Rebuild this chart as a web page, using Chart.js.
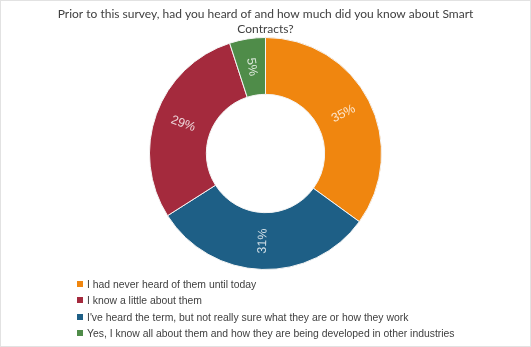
<!DOCTYPE html>
<html>
<head>
<meta charset="utf-8">
<script src="https://cdn.jsdelivr.net/npm/chart.js@4"></script>
<style>
  html, body { margin: 0; padding: 0; background: #fff; }
  #wrap { position: relative; width: 531px; height: 347px; box-sizing: border-box; border: 1px solid #e2e2e2; }
  #chart { position: absolute; left: 0; top: 0; }
  #legend { position: absolute; left: 76px; top: 276px; font: 10.4px "Liberation Sans", Arial, sans-serif; color: #404040; }
  #legend div { height: 16.3px; line-height: 16.3px; white-space: nowrap; }
  #legend span { display: inline-block; width: 6px; height: 6px; margin-right: 4px; vertical-align: 1px; }
</style>
</head>
<body>
<div id="wrap">
  <canvas id="chart" width="529" height="345"></canvas>
  <div id="legend"></div>
</div>
<script>
const titleLines = ['Prior to this survey, had you heard of and how much did you know about Smart', 'Contracts?'];
const categories = [
    'I had never heard of them until today',
    "I've heard the term, but not really sure what they are or how they work",
    'I know a little about them',
    'Yes, I know all about them and how they are being developed in other industries'
];
const values = [35, 31, 29, 5];
const colors = ['#f0860f', '#1e5f86', '#a42a3d', '#4f8c49'];
// legend lists the answers in a different order than the slices
const legendOrder = [0, 2, 1, 3];

const rotatedLabels = {
    id: 'rotatedLabels',
    afterDatasetsDraw(chart) {
        const ctx = chart.ctx;
        const meta = chart.getDatasetMeta(0);
        ctx.save();
        ctx.font = '12.5px "Liberation Sans", Arial, sans-serif';
        ctx.fillStyle = 'rgba(255,255,255,0.8)';
        ctx.textAlign = 'center';
        ctx.textBaseline = 'middle';
        meta.data.forEach((arc, i) => {
            const p = arc.tooltipPosition();
            const mid = (arc.startAngle + arc.endAngle) / 2;
            let deg = mid * 180 / Math.PI;
            // keep text upright-ish like the spreadsheet does
            while (deg > 90) deg -= 180;
            while (deg < -90) deg += 180;
            ctx.translate(p.x, p.y);
            ctx.rotate(deg * Math.PI / 180);
            ctx.fillText(values[i] + '%', 0, 0);
            ctx.setTransform(1, 0, 0, 1, 0, 0);
        });
        ctx.restore();
    }
};

const chart = new Chart(document.getElementById('chart'), {
    type: 'doughnut',
    data: {
        labels: categories,
        datasets: [{
            data: values,
            backgroundColor: colors,
            borderColor: '#f4f4f4',
            borderWidth: 1
        }]
    },
    options: {
        responsive: false,
        animation: false,
        cutout: '51%',
        layout: { padding: { top: 2, bottom: 76, left: 0, right: 0 } },
        plugins: {
            title: {
                display: true,
                text: titleLines,
                color: '#404040',
                font: { family: 'Lato', size: 12, weight: 'normal', lineHeight: 1.25 },
                padding: { top: 4, bottom: 0 }
            },
            legend: { display: false },
            tooltip: { enabled: false }
        }
    },
    plugins: [rotatedLabels]
});

const legendEl = document.getElementById('legend');
const items = chart.options.plugins.legend.labels.generateLabels(chart);
legendOrder.forEach(i => {
    const row = document.createElement('div');
    const box = document.createElement('span');
    box.style.background = items[i].fillStyle;
    row.appendChild(box);
    row.appendChild(document.createTextNode(items[i].text));
    legendEl.appendChild(row);
});
</script>
</body>
</html>
